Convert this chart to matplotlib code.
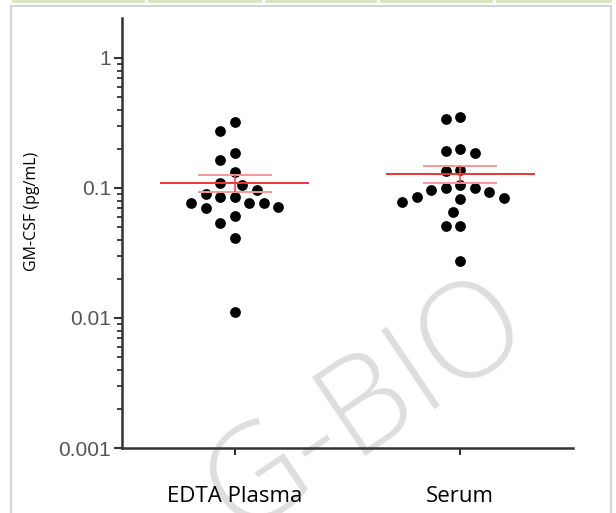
import numpy as np
import matplotlib.pyplot as plt
from matplotlib.patches import Rectangle
from matplotlib.ticker import FixedLocator, NullFormatter

# ---- data (GM-CSF, pg/mL) ----
groups = ['EDTA Plasma', 'Serum']
plasma = [0.324, 0.274, 0.185, 0.163, 0.132, 0.109, 0.106, 0.0965, 0.0853, 0.0904,
          0.0848, 0.0771, 0.0763, 0.0702, 0.0718, 0.0763, 0.0606, 0.0541, 0.0410, 0.0111]
serum = [0.354, 0.341, 0.2006, 0.187, 0.1915, 0.135, 0.138, 0.1055, 0.100, 0.0931,
         0.0842, 0.0785, 0.0823, 0.0857, 0.0965, 0.100, 0.065, 0.051, 0.051, 0.0274]
major_ticks = [0.001, 0.01, 0.1, 1]
major_labels = ['0.001', '0.01', '0.1', '1']
ylabel = 'GM-CSF (pg/mL)'


def swarm_offsets(ax, vals, step_px=7.25, min_px=14.0):
    # simple beeswarm in pixel space, returns x offsets in data units
    vals = np.asarray(vals)
    ypix = ax.transData.transform(np.column_stack([np.zeros(len(vals)), vals]))[:, 1]
    px_per_unit = ax.transData.transform((1, 1))[0] - ax.transData.transform((0, 1))[0]
    cands = [0]
    for k in range(1, 30):
        cands += [-k, k]
    placed = []
    xs = np.zeros(len(vals))
    for i in np.argsort(-ypix):
        for c in cands:
            x = c * step_px
            if all((x - px) ** 2 + (ypix[i] - py) ** 2 >= min_px ** 2 for px, py in placed):
                break
        placed.append((x, ypix[i]))
        xs[i] = x
    return xs / px_per_unit


fig = plt.figure(figsize=(6.16, 5.13), dpi=100)

# frame and green strip of the page
fig.patches.append(Rectangle((11 / 616, -0.01), 600 / 616, 1 - 6 / 513 + 0.01,
                             transform=fig.transFigure, fill=False,
                             edgecolor='#d4d4d4', lw=1.5))
for x0, x1 in [(12, 145), (148, 262), (265, 377), (380, 493), (496, 612)]:
    fig.patches.append(Rectangle((x0 / 616, 1 - 2.5 / 513), (x1 - x0) / 616, 2.5 / 513,
                                 transform=fig.transFigure, color='#d9e5bf', lw=0))

ax = fig.add_axes([122 / 616, 1 - 448 / 513, (573 - 122) / 616, (448 - 18) / 513])
ax.set_yscale('log')
ax.set_ylim(0.001, 2.03)
ax.set_xlim(-0.5, 1.5)

# watermark, behind everything in the axes
ax.text(0.597, 0.205, 'G-BIO', transform=fig.transFigure, fontsize=96,
        family='Open Sans', fontweight='light', color='#dedede',
        rotation=34, ha='center', va='center', zorder=0, clip_on=False)

for i, vals in enumerate([plasma, serum]):
    xo = swarm_offsets(ax, vals)
    ax.scatter(i + xo, vals, s=60, color='black', lw=0, zorder=2)
    m = np.mean(vals)
    sem = np.std(vals, ddof=1) / np.sqrt(len(vals))
    ax.hlines(m, i - 0.33, i + 0.33, color='#ee3535', lw=1.4, zorder=3)
    ax.hlines([m - sem, m + sem], i - 0.165, i + 0.165, color='#f39a9a', lw=1.4, zorder=3)
    ax.vlines(i, m - sem, m + sem, color='#ee4a4a', lw=1.2, zorder=3)

for s in ['top', 'right']:
    ax.spines[s].set_visible(False)
for s in ['left', 'bottom']:
    ax.spines[s].set_color('#333333')
    ax.spines[s].set_linewidth(1.8)

minor = [m * d for d in major_ticks[:-1] for m in range(2, 10)]
ax.yaxis.set_major_locator(FixedLocator(major_ticks))
ax.yaxis.set_minor_locator(FixedLocator(minor))
ax.yaxis.set_minor_formatter(NullFormatter())
ax.set_yticklabels(major_labels, family='Liberation Sans', fontsize=15, color='#555555')
ax.tick_params(axis='y', which='major', length=6, width=1.5, color='#333333', pad=2)
ax.tick_params(axis='y', which='minor', length=3.5, width=1.3, color='#333333')

ax.set_xticks(range(len(groups)))
ax.set_xticklabels(groups, family='Open Sans', fontsize=16, color='black')
ax.tick_params(axis='x', length=5, width=1.5, color='#333333', pad=22)

ax.set_ylabel(ylabel, family='Open Sans', fontsize=11.5, color='black')
ax.yaxis.set_label_coords(-0.182, 0.551)

fig.savefig('out.png', dpi=100)
